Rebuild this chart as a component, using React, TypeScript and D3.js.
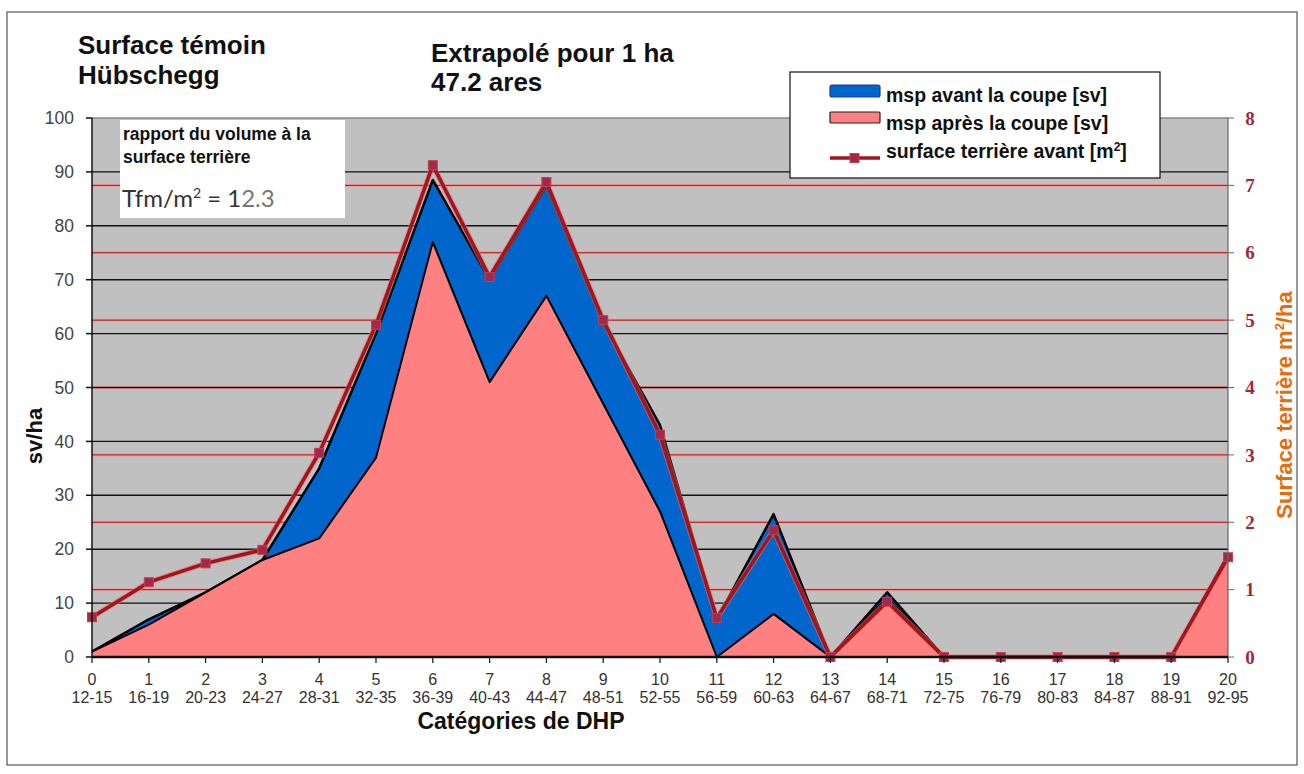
import React from 'react';
import * as d3 from 'd3';

// categories (index + DHP range)
const categories = ['0', '1', '2', '3', '4', '5', '6', '7', '8', '9', '10', '11', '12', '13', '14', '15', '16', '17', '18', '19', '20'];
const dhpRanges = ['12-15', '16-19', '20-23', '24-27', '28-31', '32-35', '36-39', '40-43', '44-47', '48-51', '52-55', '56-59', '60-63', '64-67', '68-71', '72-75', '76-79', '80-83', '84-87', '88-91', '92-95'];

// msp avant / après la coupe [sv/ha]
const mspAvant = [1, 7, 12, 18, 35, 60, 88.5, 70, 87.5, 62, 43, 7, 26.5, 0, 12, 0, 0, 0, 0, 0, 19];
const mspApres = [1, 6, 12, 18, 22, 37, 77, 51, 67, 47, 27, 0, 8, 0, 11, 0, 0, 0, 0, 0, 19];
// surface terrière avant [m2/ha]
const surfaceTerriere = [0.59, 1.11, 1.39, 1.59, 3.03, 4.93, 7.3, 5.64, 7.05, 5.0, 3.3, 0.58, 1.88, 0, 0.82, 0, 0, 0, 0, 0, 1.48];

const leftTicks = [0, 10, 20, 30, 40, 50, 60, 70, 80, 90, 100];
const rightTicks = [0, 1, 2, 3, 4, 5, 6, 7, 8];

const W = 1304;
const H = 774;
const plot = { left: 92, right: 1228, top: 118, bottom: 657 };

const sans = '"Liberation Sans", Arial, sans-serif';

export default function App() {
  const x = d3.scaleLinear().domain([0, categories.length - 1]).range([plot.left, plot.right]);
  const y = d3.scaleLinear().domain([0, 100]).range([plot.bottom, plot.top]);
  const y2 = d3.scaleLinear().domain([0, 8]).range([plot.bottom, plot.top]);

  const area = d3.area<number>().x((d, i) => x(i)).y0(y(0)).y1((d) => y(d));
  const topLine = d3.line<number>().x((d, i) => x(i)).y((d) => y(d));
  const stLine = d3.line<number>().x((d, i) => x(i)).y((d) => y2(d));

  return (
    <svg width={W} height={H} style={{ position: 'absolute', left: 0, top: 0, display: 'block', background: '#fff' }}>
      {/* outer frame */}
      <rect x={7} y={12} width={1290} height={753} fill="#fff" stroke="#555" strokeWidth={1.2} />

      {/* plot background */}
      <rect x={plot.left} y={plot.top} width={plot.right - plot.left} height={plot.bottom - plot.top} fill="#c0c0c0" />

      {/* red gridlines (right axis) */}
      {rightTicks.filter((t) => t > 0 && t < 8).map((t) => (
        <g key={'r' + t}>
          <line x1={plot.left} x2={plot.right} y1={y2(t)} y2={y2(t)} stroke="#e8a0a0" strokeWidth={3} />
          <line x1={plot.left} x2={plot.right} y1={y2(t)} y2={y2(t)} stroke="#b01010" strokeWidth={1} />
        </g>
      ))}
      {/* black gridlines (left axis) */}
      {leftTicks.filter((t) => t > 0).map((t) => (
        <line key={'g' + t} x1={plot.left} x2={plot.right} y1={y(t)} y2={y(t)} stroke={t === 100 ? '#888' : '#111'} strokeWidth={1.4} />
      ))}

      {/* areas */}
      <path d={area(mspAvant) || ''} fill="#0066cc" />
      <path d={topLine(mspAvant) || ''} fill="none" stroke="#000" strokeWidth={2.5} strokeLinejoin="round" />
      <path d={area(mspApres) || ''} fill="#ff8080" />
      <path d={topLine(mspApres) || ''} fill="none" stroke="#000" strokeWidth={2} strokeLinejoin="round" />

      {/* surface terrière line */}
      <path d={stLine(surfaceTerriere) || ''} fill="none" stroke="#e07070" strokeWidth={5.5} strokeLinejoin="round" opacity={0.6} />
      <path d={stLine(surfaceTerriere) || ''} fill="none" stroke="#a3141c" strokeWidth={3.5} strokeLinejoin="round" />
      {surfaceTerriere.map((v, i) => (
        <rect key={'m' + i} x={x(i) - 4.5} y={y2(v) - 4.5} width={9} height={9} fill="#a3284a" stroke="#c04050" strokeWidth={1} />
      ))}

      {/* axes */}
      <line x1={plot.left} x2={plot.left} y1={plot.top} y2={plot.bottom} stroke="#111" strokeWidth={1.5} />
      <line x1={plot.right} x2={plot.right} y1={plot.top} y2={plot.bottom} stroke="#666" strokeWidth={1.2} />
      <line x1={plot.left} x2={plot.right} y1={plot.bottom} y2={plot.bottom} stroke="#111" strokeWidth={2.5} />

      {leftTicks.map((t) => (
        <g key={'lt' + t}>
          <line x1={plot.left - 6} x2={plot.left} y1={y(t)} y2={y(t)} stroke="#111" strokeWidth={1.5} />
          <text x={74} y={y(t)} dy="0.35em" textAnchor="end" fontFamily={sans} fontSize={17.5} fill="#444">{t}</text>
        </g>
      ))}
      {rightTicks.map((t) => (
        <g key={'rt' + t}>
          <line x1={plot.right} x2={plot.right + 6} y1={y2(t)} y2={y2(t)} stroke="#666" strokeWidth={1} />
          <text x={1250} y={y2(t)} dy="0.35em" textAnchor="middle" fontFamily='"Liberation Serif", "DejaVu Serif", serif' fontWeight="bold" fontSize={19} fill="#a0283c">{t}</text>
        </g>
      ))}
      {categories.map((c, i) => (
        <g key={'xt' + i}>
          <line x1={x(i)} x2={x(i)} y1={plot.bottom} y2={plot.bottom + 6} stroke="#111" strokeWidth={1.2} />
          <text x={x(i)} y={685} textAnchor="middle" fontFamily={sans} fontSize={16} fill="#333">{c}</text>
          <text x={x(i)} y={703} textAnchor="middle" fontFamily={sans} fontSize={16} fill="#333">{dhpRanges[i]}</text>
        </g>
      ))}

      {/* axis titles */}
      <text x={521} y={729} textAnchor="middle" fontFamily={sans} fontWeight="bold" fontSize={23} fill="#111">Catégories de DHP</text>
      <text transform="translate(42,436) rotate(-90)" textAnchor="middle" fontFamily={sans} fontWeight="bold" fontSize={22} fill="#111">sv/ha</text>
      <text transform="translate(1292,405) rotate(-90)" textAnchor="middle" fontFamily={sans} fontWeight="bold" fontSize={22} fill="#e46c0a">
        Surface terrière m<tspan dy="-8" fontSize={13}>2</tspan><tspan dy="8">/ha</tspan>
      </text>

      {/* titles */}
      <text fontFamily={sans} fontWeight="bold" fontSize={26} fill="#111">
        <tspan x={78} y={54}>Surface témoin</tspan>
        <tspan x={78} y={84}>Hübschegg</tspan>
      </text>
      <text fontFamily={sans} fontWeight="bold" fontSize={26} fill="#111">
        <tspan x={431} y={62}>Extrapolé pour 1 ha</tspan>
        <tspan x={431} y={91}>47.2 ares</tspan>
      </text>

      {/* annotation box */}
      <rect x={120} y={120} width={225} height={98} fill="#fff" />
      <text fontFamily={sans} fontWeight="bold" fontSize={17.5} fill="#111">
        <tspan x={123} y={140}>rapport du volume à la</tspan>
        <tspan x={123} y={163}>surface terrière</tspan>
      </text>
      <text x={122} y={207} fontFamily='Lato, "Open Sans", sans-serif' fontSize={24} fill="#333">
        Tfm/m<tspan dy="-9" fontSize={14}>2</tspan><tspan dy="9"> = 1</tspan><tspan fill="#777">2.3</tspan>
      </text>

      {/* legend */}
      <rect x={790} y={72} width={370} height={106} fill="#fff" stroke="#111" strokeWidth={1.2} />
      <rect x={830} y={85} width={50} height={12} rx={2} fill="#0066cc" stroke="#1a3a80" strokeWidth={1.2} />
      <rect x={830} y={112} width={50} height={11} rx={1} fill="#ff8080" stroke="#222" strokeWidth={1.2} />
      <line x1={830} x2={880} y1={158} y2={158} stroke="#a3141c" strokeWidth={3.5} />
      <rect x={850} y={153.5} width={9} height={9} fill="#a3284a" stroke="#c04050" />
      <text fontFamily={sans} fontWeight="bold" fontSize={19.5} fill="#111">
        <tspan x={886} y={102}>msp avant la coupe [sv]</tspan>
        <tspan x={886} y={130}>msp après la coupe [sv]</tspan>
        <tspan x={886} y={158}>surface terrière avant [m<tspan dy="-7" fontSize={12}>2</tspan><tspan dy="7">]</tspan></tspan>
      </text>
    </svg>
  );
}
